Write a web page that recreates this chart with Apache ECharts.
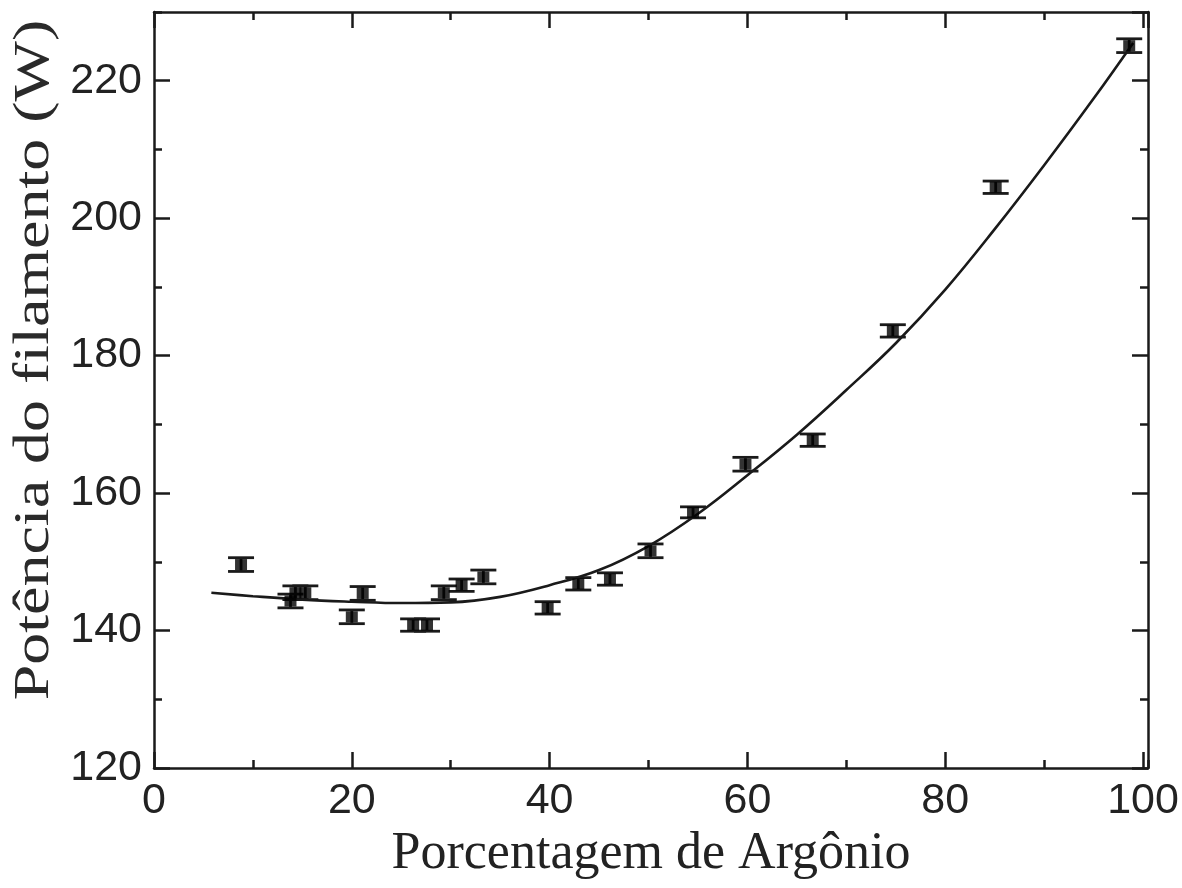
<!DOCTYPE html>
<html>
<head>
<meta charset="utf-8">
<script src="https://cdn.jsdelivr.net/npm/echarts@6/dist/echarts.min.js"></script>
<style>
  html, body { margin: 0; padding: 0; background: #fff; }
  #chart { width: 1182px; height: 888px; }
</style>
</head>
<body>
<div id="chart"></div>
<script>
// Measured points: argon percentage vs filament power, with ± error
const argonPct = [8.8, 13.8, 14.3, 15.3, 20.0, 21.1, 26.2, 27.6, 29.3, 31.1, 33.3, 39.8, 42.9, 46.1, 50.2, 54.5, 59.8, 66.6, 74.7, 85.1, 98.6];
const powerW   = [149.6, 144.3, 145.5, 145.5, 142.0, 145.4, 140.8, 140.8, 145.5, 146.6, 147.8, 143.3, 146.8, 147.5, 151.6, 157.2, 164.2, 167.7, 183.6, 204.5, 225.1];
const powerErr = [1.0, 1.0, 1.0, 1.0, 1.0, 1.0, 0.9, 0.9, 1.0, 0.9, 1.0, 0.9, 0.9, 0.9, 1.0, 0.8, 1.0, 0.9, 0.9, 0.9, 1.0];

// Fitted curve samples
const fitX = [5.8, 10, 15, 20, 25, 30, 35, 40, 45, 50, 55, 60, 65, 70, 75, 80, 85, 90, 95, 99];
const fitY = [145.5, 145.0, 144.5, 144.2, 144.0, 144.1, 144.9, 146.6, 148.8, 152.3, 157.0, 162.6, 168.5, 175.0, 181.8, 189.6, 198.4, 207.7, 217.4, 225.5];

// Axis ranges and tick spacing
const xRange = [0, 100.5];
const yRange = [120, 230];
const majorStep = 20;
const minorStep = 10;

const ink = '#1a1a1a';
const axisW = 2.5;

// Four axes per direction: labelled side, its minor ticks, and the mirrored
// opposite side with major and minor ticks. All ticks point into the frame.
function axisSet(kind, range) {
  const base = { type: 'value', min: range[0], max: range[1], splitLine: { show: false } };
  const near = kind === 'x' ? 'bottom' : 'left';
  const far = kind === 'x' ? 'top' : 'right';
  const mk = (pos, step, len, withLine, withLabel) => Object.assign({}, base, {
    position: pos, interval: step,
    axisLine: { show: withLine, onZero: false, lineStyle: { color: ink, width: axisW } },
    axisTick: { show: true, inside: true, length: len, lineStyle: { color: ink, width: axisW } },
    axisLabel: withLabel ? {
      show: true, showMaxLabel: false, margin: 12,
      fontFamily: '"Liberation Sans", Arial, sans-serif', fontSize: 43, color: '#222'
    } : { show: false }
  });
  return [
    mk(near, majorStep, 16, true, true),
    mk(near, minorStep, 8, false, false),
    mk(far, majorStep, 16, true, false),
    mk(far, minorStep, 8, false, false)
  ];
}

const xAxes = axisSet('x', xRange);
xAxes[0].name = 'Porcentagem de Argônio';
xAxes[0].nameLocation = 'middle';
xAxes[0].nameGap = 55;
xAxes[0].nameTextStyle = { fontFamily: '"Liberation Serif", "Times New Roman", serif', fontSize: 52, color: '#222' };

const yAxes = axisSet('y', yRange);

const errData = argonPct.map((x, i) => [x, powerW[i] - powerErr[i], powerW[i] + powerErr[i]]);
const ptData = argonPct.map((x, i) => [x, powerW[i]]);
const fitData = fitX.map((x, i) => [x, fitY[i]]);

const chart = echarts.init(document.getElementById('chart'), null, { renderer: 'canvas' });
chart.setOption({
  backgroundColor: '#ffffff',
  animation: false,
  grid: { left: 154, right: 34, top: 12, bottom: 120, containLabel: false, outerBoundsMode: 'none' },
  xAxis: xAxes,
  yAxis: yAxes,
  graphic: [{
    type: 'text',
    x: 35, y: 360,
    rotation: Math.PI / 2,
    scaleX: 1.28,
    style: {
      text: 'Potência do filamento (W)',
      font: '50px "Liberation Serif", "Times New Roman", serif',
      fill: '#2a2a2a',
      align: 'center', verticalAlign: 'middle',
      textAlign: 'center', textVerticalAlign: 'middle'
    }
  }],
  series: [
    {
      type: 'line',
      data: fitData,
      smooth: 0.4,
      showSymbol: false,
      lineStyle: { color: ink, width: 2.6 },
      z: 2
    },
    {
      type: 'custom',
      data: errData,
      renderItem: function (params, api) {
        const x = api.value(0);
        const lo = api.coord([x, api.value(1)]);
        const hi = api.coord([x, api.value(2)]);
        const hw = 13;
        const style = { stroke: ink, lineWidth: 2.8, fill: null };
        return {
          type: 'group',
          children: [
            { type: 'line', shape: { x1: lo[0], y1: lo[1], x2: hi[0], y2: hi[1] }, style: style },
            { type: 'line', shape: { x1: lo[0] - hw, y1: lo[1], x2: lo[0] + hw, y2: lo[1] }, style: style },
            { type: 'line', shape: { x1: hi[0] - hw, y1: hi[1], x2: hi[0] + hw, y2: hi[1] }, style: style }
          ]
        };
      },
      z: 3
    },
    {
      type: 'scatter',
      data: ptData,
      symbol: 'rect',
      symbolSize: [12, 11],
      itemStyle: { color: '#000' },
      z: 4
    }
  ]
});
</script>
</body>
</html>
